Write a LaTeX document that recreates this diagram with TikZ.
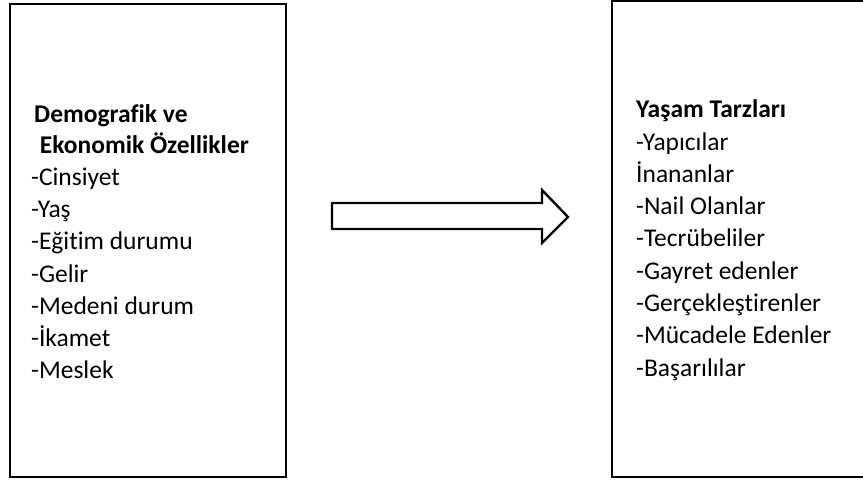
\documentclass[tikz,border=0pt]{standalone}
\usepackage{fontspec}
\setmainfont[Ligatures=NoCommon]{Carlito}
\begin{document}
\begin{tikzpicture}[x=1pt,y=-1pt,
  frame/.style={draw=black,line width=2.4pt},
  txt/.style={anchor=base west,inner sep=0pt,font=\fontsize{25.5}{30}\selectfont},
  hdr/.style={txt,font=\fontsize{25.5}{30}\selectfont\bfseries},
  blockarrow/.style={draw=black,line width=2.4pt,fill=white,line join=miter}]
\useasboundingbox (0,0) rectangle (863,480);
\clip (0,0) rectangle (863,480);
% boxes
\draw[frame] (10,4) rectangle (286,477);
\draw[frame] (612,1) rectangle (875,477);
% left text
\node[hdr] (l0) at (34,122) {Demografik ve};
\node[hdr] (l1) at (34,153) {\ Ekonomik Özellikler};
\node[txt] (l2) at (31,185) {-Cinsiyet};
\node[txt] (l3) at (31,217) {-Yaş};
\node[txt] (l4) at (31,249) {-Eğitim durumu};
\node[txt] (l5) at (31,282) {-Gelir};
\node[txt] (l6) at (31,314) {-Medeni durum};
\node[txt] (l7) at (31,346) {-İkamet};
\node[txt] (l8) at (31,378) {-Meslek};
% right text
\node[hdr] (r0) at (636,117) {Yaşam Tarzları};
\node[txt] (r1) at (636,150) {-Yapıcılar};
\node[txt] (r2) at (636,182) {İnananlar};
\node[txt] (r3) at (636,214) {-Nail Olanlar};
\node[txt] (r4) at (636,246) {-Tecrübeliler};
\node[txt] (r5) at (636,279) {-Gayret edenler};
\node[txt] (r6) at (636,311) {-Gerçekleştirenler};
\node[txt] (r7) at (636,343) {-Mücadele Edenler};
\node[txt] (r8) at (636,376) {-Başarılılar};
% block arrow
\draw[blockarrow] (332,203) -- (542,203) -- (542,190) -- (568,217) -- (542,243) -- (542,229) -- (332,229) -- cycle;
\end{tikzpicture}
\end{document}
